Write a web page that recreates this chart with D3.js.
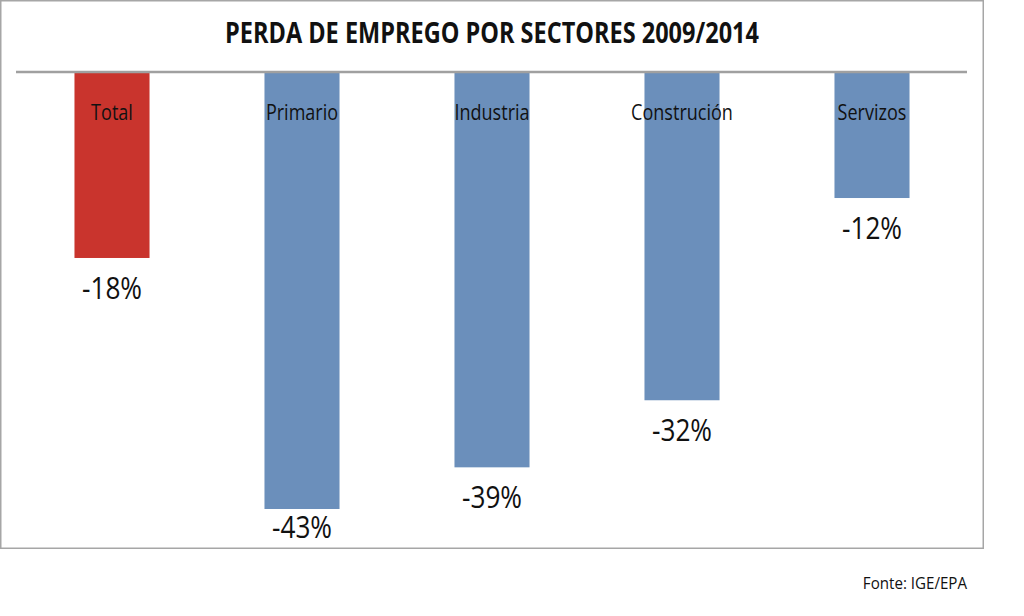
<!DOCTYPE html>
<html>
<head>
<meta charset="utf-8">
<script src="https://cdn.jsdelivr.net/npm/d3@7"></script>
<style>
  html, body { margin: 0; padding: 0; background: #fff; }
  svg { display: block; }
  text { font-family: "Open Sans", "Noto Sans", sans-serif; fill: #111; }
</style>
</head>
<body>
<svg id="chart" width="1024" height="616"></svg>
<script>
const categories = ["Total", "Primario", "Industria", "Construción", "Servizos"];
const values = [-18.3, -43.0, -38.9, -32.3, -12.4];
const labels = ["-18%", "-43%", "-39%", "-32%", "-12%"];
const title = "PERDA DE EMPREGO POR SECTORES 2009/2014";
const source = "Fonte: IGE/EPA";

const svg = d3.select("#chart");

// outer frame
svg.append("rect")
  .attr("x", 0.75).attr("y", 0.75)
  .attr("width", 982.5).attr("height", 547.5)
  .attr("fill", "#fff")
  .attr("stroke", "#a6a6a6")
  .attr("stroke-width", 1.5);

const x = d3.scaleBand()
  .domain(categories)
  .range([17, 967])
  .paddingInner(0.605)
  .paddingOuter(0.3025);

const y = d3.scaleLinear()
  .domain([0, -43])
  .range([72, 509]);

const data = categories.map((c, i) => ({ c, v: values[i], l: labels[i], i }));

// bars
svg.append("g").selectAll("rect")
  .data(data)
  .join("rect")
  .attr("x", d => x(d.c))
  .attr("y", y(0))
  .attr("width", x.bandwidth())
  .attr("height", d => y(d.v) - y(0))
  .attr("fill", d => d.i === 0 ? "#c9342d" : "#6b8fbb");

// zero axis line
svg.append("line")
  .attr("x1", 16).attr("x2", 967)
  .attr("y1", y(0)).attr("y2", y(0))
  .attr("stroke", "#a0a0a0")
  .attr("stroke-width", 2.5);

// category labels
svg.append("g").selectAll("text")
  .data(data)
  .join("text")
  .attr("transform", d => `translate(${x(d.c) + x.bandwidth() / 2},120) scale(0.82,1)`)
  .attr("text-anchor", "middle")
  .attr("font-size", 22)
  .attr("fill", "#1a1a1a")
  .text(d => d.c);

// value labels
svg.append("g").selectAll("text")
  .data(data)
  .join("text")
  .attr("transform", d => `translate(${x(d.c) + x.bandwidth() / 2},${Math.min(y(d.v) + 41, 538)}) scale(0.86,1)`)
  .attr("text-anchor", "middle")
  .attr("font-size", 30.5)
  .text(d => d.l);

// title
svg.append("text")
  .attr("transform", "translate(492,43) scale(0.84,1)")
  .attr("text-anchor", "middle")
  .attr("font-size", 28)
  .attr("font-weight", "bold")
  .text(title);

// source
svg.append("text")
  .attr("transform", "translate(967,589) scale(0.89,1)")
  .attr("text-anchor", "end")
  .attr("font-size", 17)
  .attr("fill", "#222")
  .text(source);
</script>
</body>
</html>
